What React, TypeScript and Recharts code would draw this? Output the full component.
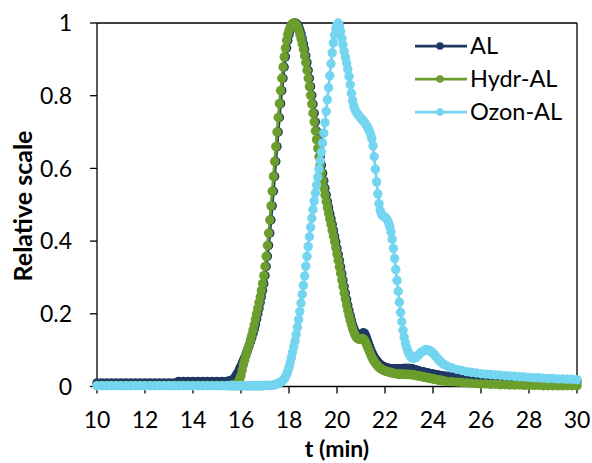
import React from "react";
import { Label, Legend, Line, LineChart, ReferenceLine, XAxis, YAxis } from "recharts";

// sampling grids: flat start, dense middle, flat tail
const headStart = 10;
const headStep = 0.2; // 10.0 .. 15.4
const peakStart = 15.5;
const peakStep = 0.05; // 15.5 .. 24.45
const tailStart = 24.6;
const tailStep = 0.2; // 24.6 .. 30.0

const xTicks = [10, 12, 14, 16, 18, 20, 22, 24, 26, 28, 30];
const yTicks = [0, 0.2, 0.4, 0.6, 0.8, 1];

const seriesNames = ["AL", "Hydr-AL", "Ozon-AL"];

const alHead = [
  0.010, 0.010, 0.010, 0.010, 0.010, 0.010, 0.010, 0.010, 0.010, 0.010,
  0.010, 0.010, 0.010, 0.010, 0.010, 0.010, 0.010, 0.014, 0.014, 0.014,
  0.014, 0.014, 0.014, 0.014, 0.014, 0.014, 0.014, 0.014,
];
const alPeak = [
  0.015, 0.015, 0.016, 0.018, 0.021, 0.025, 0.030, 0.036, 0.042, 0.049, // 15.5
  0.056, 0.063, 0.071, 0.079, 0.087, 0.096, 0.105, 0.114, 0.124, 0.134, // 16.0
  0.145, 0.157, 0.170, 0.185, 0.200, 0.215, 0.231, 0.247, 0.264, 0.283, // 16.5
  0.305, 0.330, 0.358, 0.388, 0.422, 0.458, 0.497, 0.537, 0.578, 0.619, // 17.0
  0.660, 0.700, 0.740, 0.778, 0.814, 0.848, 0.879, 0.907, 0.931, 0.952, // 17.5
  0.968, 0.980, 0.989, 0.995, 0.999, 1.000, 0.999, 0.996, 0.990, 0.981, // 18.0
  0.970, 0.957, 0.943, 0.928, 0.910, 0.891, 0.870, 0.848, 0.825, 0.801, // 18.5
  0.777, 0.752, 0.728, 0.703, 0.679, 0.655, 0.632, 0.609, 0.587, 0.566, // 19.0
  0.546, 0.527, 0.509, 0.492, 0.476, 0.461, 0.446, 0.430, 0.414, 0.398, // 19.5
  0.381, 0.364, 0.347, 0.329, 0.311, 0.293, 0.275, 0.257, 0.240, 0.224, // 20.0
  0.209, 0.195, 0.182, 0.170, 0.160, 0.152, 0.146, 0.142, 0.140, 0.141, // 20.5
  0.143, 0.146, 0.148, 0.146, 0.139, 0.130, 0.120, 0.111, 0.102, 0.094, // 21.0
  0.087, 0.081, 0.076, 0.071, 0.067, 0.064, 0.061, 0.058, 0.056, 0.054, // 21.5
  0.053, 0.052, 0.051, 0.050, 0.050, 0.049, 0.049, 0.048, 0.048, 0.048, // 22.0
  0.048, 0.048, 0.048, 0.049, 0.049, 0.050, 0.050, 0.050, 0.050, 0.050, // 22.5
  0.050, 0.050, 0.049, 0.048, 0.047, 0.046, 0.045, 0.044, 0.043, 0.042, // 23.0
  0.041, 0.040, 0.040, 0.039, 0.038, 0.037, 0.037, 0.036, 0.035, 0.035, // 23.5
  0.034, 0.033, 0.033, 0.032, 0.031, 0.031, 0.030, 0.030, 0.029, 0.029, // 24.0
];
const alTail = [
  0.028, 0.027, 0.026, 0.025, 0.024, 0.023, 0.022, 0.021, 0.021, 0.020,
  0.019, 0.019, 0.018, 0.018, 0.017, 0.017, 0.016, 0.016, 0.016, 0.015,
  0.015, 0.015, 0.014, 0.014, 0.014, 0.014, 0.013, 0.013,
];

const hydrHead = [
  0.003, 0.003, 0.003, 0.003, 0.003, 0.003, 0.003, 0.003, 0.003, 0.003,
  0.003, 0.003, 0.003, 0.003, 0.003, 0.003, 0.003, 0.003, 0.003, 0.003,
  0.003, 0.003, 0.003, 0.003, 0.003, 0.003, 0.003, 0.003,
];
const hydrPeak = [
  0.003, 0.003, 0.003, 0.004, 0.004, 0.005, 0.006, 0.009, 0.015, 0.021, // 15.5
  0.030, 0.045, 0.060, 0.072, 0.084, 0.095, 0.106, 0.117, 0.129, 0.141, // 16.0
  0.155, 0.170, 0.185, 0.200, 0.215, 0.231, 0.247, 0.264, 0.283, 0.305, // 16.5
  0.330, 0.358, 0.388, 0.422, 0.458, 0.497, 0.537, 0.578, 0.619, 0.660, // 17.0
  0.700, 0.740, 0.778, 0.814, 0.848, 0.879, 0.907, 0.931, 0.952, 0.968, // 17.5
  0.980, 0.989, 0.995, 0.999, 1.000, 0.999, 0.996, 0.990, 0.981, 0.970, // 18.0
  0.957, 0.943, 0.928, 0.910, 0.891, 0.870, 0.848, 0.825, 0.801, 0.777, // 18.5
  0.752, 0.728, 0.703, 0.679, 0.655, 0.632, 0.609, 0.587, 0.566, 0.546, // 19.0
  0.527, 0.509, 0.492, 0.476, 0.461, 0.446, 0.430, 0.414, 0.398, 0.381, // 19.5
  0.364, 0.347, 0.329, 0.311, 0.293, 0.275, 0.257, 0.240, 0.224, 0.209, // 20.0
  0.195, 0.182, 0.170, 0.159, 0.150, 0.142, 0.136, 0.132, 0.130, 0.130, // 20.5
  0.131, 0.132, 0.131, 0.127, 0.120, 0.112, 0.104, 0.096, 0.088, 0.081, // 21.0
  0.075, 0.069, 0.064, 0.060, 0.056, 0.053, 0.050, 0.048, 0.046, 0.044, // 21.5
  0.043, 0.042, 0.041, 0.040, 0.039, 0.038, 0.037, 0.036, 0.036, 0.035, // 22.0
  0.035, 0.034, 0.034, 0.034, 0.034, 0.034, 0.034, 0.034, 0.033, 0.033, // 22.5
  0.033, 0.033, 0.033, 0.032, 0.032, 0.031, 0.030, 0.030, 0.029, 0.028, // 23.0
  0.028, 0.027, 0.026, 0.026, 0.025, 0.024, 0.024, 0.023, 0.022, 0.022, // 23.5
  0.021, 0.020, 0.020, 0.019, 0.018, 0.018, 0.017, 0.017, 0.016, 0.015, // 24.0
];
const hydrTail = [
  0.014, 0.013, 0.012, 0.011, 0.010, 0.009, 0.008, 0.007, 0.007, 0.006,
  0.006, 0.005, 0.005, 0.004, 0.004, 0.004, 0.003, 0.003, 0.003, 0.003,
  0.002, 0.002, 0.002, 0.002, 0.002, 0.002, 0.002, 0.002,
];

const ozonHead = [
  0.002, 0.002, 0.002, 0.002, 0.002, 0.002, 0.002, 0.002, 0.002, 0.002,
  0.002, 0.002, 0.002, 0.002, 0.002, 0.002, 0.002, 0.002, 0.002, 0.002,
  0.002, 0.002, 0.002, 0.002, 0.002, 0.002, 0.002, 0.002,
];
const ozonPeak = [
  0.002, 0.002, 0.002, 0.002, 0.002, 0.002, 0.002, 0.002, 0.002, 0.002, // 15.5
  0.002, 0.002, 0.002, 0.002, 0.002, 0.002, 0.002, 0.002, 0.002, 0.002, // 16.0
  0.002, 0.002, 0.002, 0.002, 0.002, 0.002, 0.002, 0.002, 0.002, 0.002, // 16.5
  0.003, 0.003, 0.003, 0.003, 0.003, 0.003, 0.003, 0.004, 0.005, 0.006, // 17.0
  0.007, 0.008, 0.010, 0.012, 0.014, 0.017, 0.021, 0.026, 0.033, 0.042, // 17.5
  0.053, 0.066, 0.080, 0.095, 0.110, 0.125, 0.143, 0.163, 0.184, 0.206, // 18.0
  0.229, 0.253, 0.278, 0.304, 0.331, 0.358, 0.385, 0.412, 0.438, 0.463, // 18.5
  0.487, 0.510, 0.532, 0.554, 0.576, 0.598, 0.621, 0.645, 0.670, 0.697, // 19.0
  0.726, 0.757, 0.789, 0.822, 0.855, 0.888, 0.918, 0.945, 0.967, 0.984, // 19.5
  0.996, 1.000, 0.993, 0.978, 0.958, 0.940, 0.922, 0.906, 0.890, 0.873, // 20.0
  0.853, 0.830, 0.807, 0.787, 0.772, 0.762, 0.755, 0.750, 0.746, 0.742, // 20.5
  0.738, 0.734, 0.730, 0.726, 0.721, 0.716, 0.710, 0.703, 0.694, 0.682, // 21.0
  0.662, 0.632, 0.598, 0.563, 0.530, 0.503, 0.485, 0.475, 0.470, 0.468, // 21.5
  0.466, 0.463, 0.458, 0.450, 0.440, 0.425, 0.405, 0.380, 0.352, 0.322, // 22.0
  0.292, 0.262, 0.232, 0.204, 0.178, 0.155, 0.136, 0.120, 0.108, 0.098, // 22.5
  0.090, 0.084, 0.080, 0.078, 0.078, 0.079, 0.081, 0.084, 0.087, 0.090, // 23.0
  0.093, 0.096, 0.098, 0.100, 0.101, 0.101, 0.100, 0.099, 0.097, 0.095, // 23.5
  0.092, 0.088, 0.084, 0.080, 0.076, 0.072, 0.069, 0.066, 0.063, 0.061, // 24.0
];
const ozonTail = [
  0.056, 0.051, 0.047, 0.044, 0.041, 0.039, 0.037, 0.035, 0.034, 0.033,
  0.032, 0.031, 0.030, 0.029, 0.028, 0.027, 0.026, 0.025, 0.024, 0.024,
  0.023, 0.022, 0.022, 0.021, 0.021, 0.020, 0.020, 0.019,
];

const colors = ["#1f3864", "#6b9e2c", "#74d5f0"];
const font = "Lato, 'Noto Sans', sans-serif";

function toPoints(start: number, step: number, values: number[]) {
  return values.map((v, i) => ({ t: Math.round((start + i * step) * 1000) / 1000, v }));
}

function buildSeries(head: number[], peak: number[], tail: number[]) {
  return [
    ...toPoints(headStart, headStep, head),
    ...toPoints(peakStart, peakStep, peak),
    ...toPoints(tailStart, tailStep, tail),
  ];
}

const seriesData = [
  buildSeries(alHead, alPeak, alTail),
  buildSeries(hydrHead, hydrPeak, hydrTail),
  buildSeries(ozonHead, ozonPeak, ozonTail),
];

const renderLegend = () => (
  <svg width={170} height={100}>
    {seriesNames.map((name, i) => {
      const y = 18 + i * 33;
      return (
        <g key={name}>
          <line x1={5} x2={57} y1={y} y2={y} stroke={colors[i]} strokeWidth={2.75} />
          <circle cx={30} cy={y} r={3.8} fill={colors[i]} />
          <text x={60} y={y + 8.3} fontSize={23.5} fontFamily={font} fill="#000">
            {name}
          </text>
        </g>
      );
    })}
  </svg>
);

const YTitle = () => (
  <text
    x={32}
    y={206}
    transform="rotate(-90 32 206)"
    textAnchor="middle"
    fontSize={25}
    fontWeight={700}
    fontFamily={font}
    fill="#000"
  >
    Relative scale
  </text>
);

const XTitle = () => (
  <text x={337} y={457} textAnchor="middle" fontSize={23} fontWeight={700} fontFamily={font} fill="#000">
    t (min)
  </text>
);

export default function App() {
  const tick = { fill: "#000", fontSize: 23, fontFamily: font };
  const axisLine = { stroke: "#000", strokeWidth: 1.3 };

  return (
    <div style={{ position: "absolute", left: 0, top: 0, width: 592, height: 463, background: "#fff" }}>
      <LineChart width={592} height={463} margin={{ top: 23, right: 15, left: 37, bottom: 46.5 }}>
        <XAxis
          dataKey="t"
          type="number"
          domain={[10, 30]}
          ticks={xTicks}
          interval={0}
          height={30}
          tickSize={7}
          tickMargin={18}
          tick={tick}
          axisLine={axisLine}
          tickLine={axisLine}
        >
          <Label content={XTitle} />
        </XAxis>
        <YAxis
          type="number"
          domain={[0, 1]}
          ticks={yTicks}
          interval={0}
          width={60}
          tickSize={7}
          tickMargin={18}
          tick={tick}
          axisLine={axisLine}
          tickLine={axisLine}
        >
          <Label content={YTitle} />
        </YAxis>
        <ReferenceLine y={1} stroke="#000" strokeWidth={1.3} />
        <ReferenceLine x={30} stroke="#000" strokeWidth={1.3} />
        {seriesData.map((data, i) => (
          <Line
            key={seriesNames[i]}
            data={data}
            dataKey="v"
            name={seriesNames[i]}
            type="linear"
            stroke={colors[i]}
            strokeWidth={2.75}
            dot={{ r: 4.7, fill: colors[i], stroke: "none" }}
            activeDot={false}
            isAnimationActive={false}
          />
        ))}
        <Legend
          layout="vertical"
          align="center"
          verticalAlign="middle"
          wrapperStyle={{ left: 410, top: 28, width: 170, height: 100 }}
          content={renderLegend}
        />
      </LineChart>
    </div>
  );
}
